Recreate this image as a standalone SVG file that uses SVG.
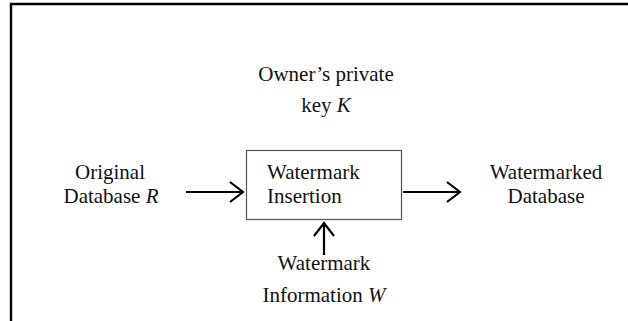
<svg xmlns="http://www.w3.org/2000/svg" width="628" height="321" viewBox="0 0 628 321">
<style>
text{font-family:"Liberation Serif","Times New Roman",serif;font-size:21px;fill:#111}
.c{text-anchor:middle}
.i{font-style:italic}
.ar{fill:none;stroke:#000;stroke-width:2.2}
</style>
<rect width="628" height="321" fill="#fff"/>
<path d="M11,321 V4 H628" fill="none" stroke="#000" stroke-width="2.4"/>
<g id="key">
<text class="c" x="326" y="81">Owner’s private</text>
<text class="c" x="326" y="112">key <tspan class="i">K</tspan></text>
</g>
<g id="original">
<text class="c" x="110" y="179">Original</text>
<text class="c" x="111" y="203">Database <tspan class="i">R</tspan></text>
</g>
<g id="insertion">
<rect x="246.5" y="150.5" width="155" height="69" fill="#fff" stroke="#555" stroke-width="1.2"/>
<text x="267" y="179">Watermark</text>
<text x="267" y="203">Insertion</text>
</g>
<g id="watermarked">
<text class="c" x="546" y="179">Watermarked</text>
<text class="c" x="546" y="203">Database</text>
</g>
<g id="info">
<text class="c" x="324" y="270">Watermark</text>
<text class="c" x="324" y="302">Information <tspan class="i">W</tspan></text>
</g>
<g id="connectors">
<path class="ar" d="M186,192 H242 M230,182 L243,192 L230,202"/>
<path class="ar" d="M403,192 H459 M447,182 L460,192 L447,202"/>
<path class="ar" d="M324,255 V224 M314,236 L324,223 L334,236"/>
</g>
</svg>
